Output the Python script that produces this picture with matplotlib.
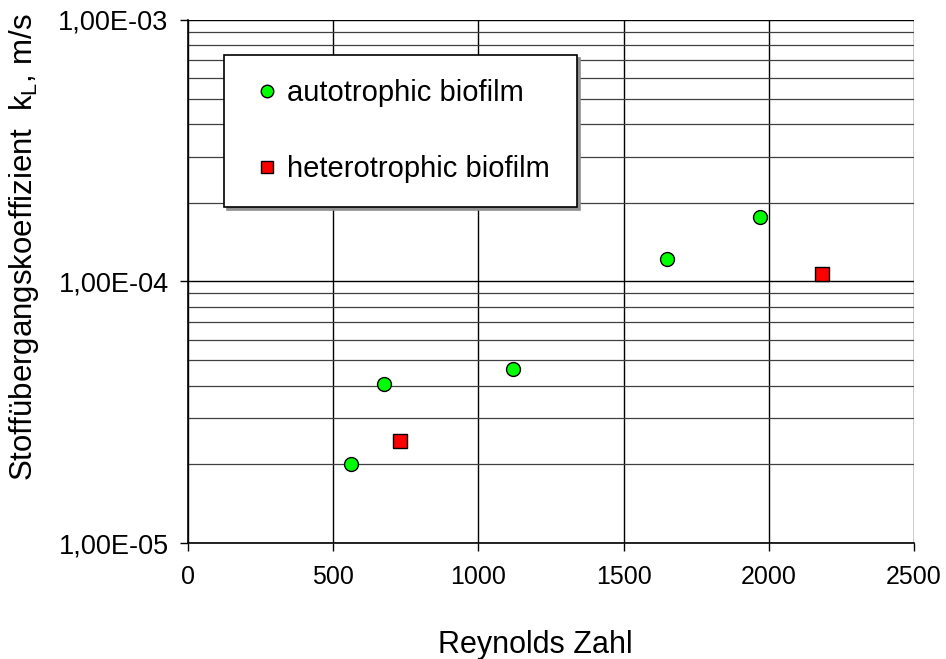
import numpy as np
import matplotlib
matplotlib.use('Agg')
import matplotlib.pyplot as plt
from matplotlib.ticker import LogLocator, NullFormatter, FixedLocator

plt.rcParams['font.family'] = ['Liberation Sans', 'DejaVu Sans']
plt.rcParams['mathtext.default'] = 'regular'

# autotrophic biofilm
auto_re = [561, 675, 1119, 1649, 1970]
auto_kl = [2.0e-5, 4.06e-5, 4.63e-5, 1.22e-4, 1.76e-4]
# heterotrophic biofilm
hetero_re = [730, 2183]
hetero_kl = [2.45e-5, 1.07e-4]

x_ticks = [0, 500, 1000, 1500, 2000, 2500]
y_ticks = [1e-5, 1e-4, 1e-3]
y_labels = ['1,00E-05', '1,00E-04', '1,00E-03']

fig = plt.figure(figsize=(9.46, 6.59), dpi=100)
ax = fig.add_axes([0.1987, 0.176, 0.7675, 0.7937])

ax.set_yscale('log')
ax.set_xlim(0, 2500)
ax.set_ylim(1e-5, 1e-3)

ax.xaxis.set_major_locator(FixedLocator(x_ticks))
ax.yaxis.set_major_locator(FixedLocator(y_ticks))
ax.set_yticklabels(y_labels)
ax.yaxis.set_minor_locator(LogLocator(base=10, subs=np.arange(2, 10)))
ax.yaxis.set_minor_formatter(NullFormatter())

ax.grid(True, which='major', axis='both', color='black', linewidth=1.0)
ax.grid(True, which='minor', axis='y', color='#404040', linewidth=0.9)
ax.set_axisbelow(True)

ax.tick_params(axis='both', which='major', direction='out', length=6, width=1,
               color='black')
ax.tick_params(axis='y', which='major', pad=8, labelsize=19.5)
ax.tick_params(axis='x', which='major', pad=10, labelsize=18)
ax.tick_params(axis='y', which='minor', length=0)

for s in ['top', 'right']:
    ax.spines[s].set_visible(False)
ax.spines['left'].set_linewidth(1.2)
ax.spines['bottom'].set_linewidth(1.2)

ax.plot(auto_re, auto_kl, linestyle='none', marker='o', markersize=10,
        markerfacecolor='#00ff00', markeredgecolor='black', markeredgewidth=1,
        label='autotrophic biofilm', zorder=5)
ax.plot(hetero_re, hetero_kl, linestyle='none', marker='s', markersize=10,
        markerfacecolor='#ff0000', markeredgecolor='black', markeredgewidth=1,
        label='heterotrophic biofilm', zorder=5)

ax.set_xlabel('Reynolds Zahl', fontsize=22)
ax.xaxis.set_label_coords(0.479, -0.167)
ax.set_ylabel('Stoffübergangskoeffizient  k$_{L}$, m/s', fontsize=22.5)
ax.yaxis.set_label_coords(-0.203, 0.566)

leg = ax.legend(loc='upper left', bbox_to_anchor=(0.0496, 0.639, 0.486, 0.294),
                mode='expand', fontsize=21, frameon=True, fancybox=False,
                shadow={'color': '#909090', 'alpha': 1}, borderaxespad=0,
                labelspacing=1.65, borderpad=0.82, handletextpad=0.05,
                handlelength=1.3, markerscale=0.9)
leg.get_frame().set_edgecolor('black')
leg.get_frame().set_linewidth(1.2)
leg.get_frame().set_facecolor('white')
leg.get_frame().set_alpha(1)

fig.savefig('out.png', dpi=100)
